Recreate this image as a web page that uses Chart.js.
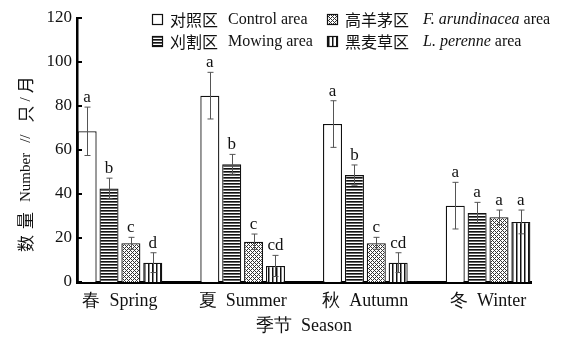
<!DOCTYPE html>
<html>
<head>
<meta charset="utf-8">
<script src="https://cdn.jsdelivr.net/npm/chart.js@4"></script>
<style>
  html, body { margin: 0; padding: 0; background: #fff; }
</style>
</head>
<body>
<canvas id="myChart" width="564" height="347"></canvas>
<script>
// data
const seasons = ['春  Spring', '夏  Summer', '秋  Autumn', '冬  Winter'];

const control = [68.5, 84.7, 71.8, 34.7];
const controlErr = [11, 10.6, 10.6, 10.6];
const controlSig = ['a', 'a', 'a', 'a'];

const mowing = [42.5, 53.5, 48.6, 31.4];
const mowingErr = [4.7, 4.5, 4.6, 4.8];
const mowingSig = ['b', 'b', 'b', 'a'];

const arund = [17.6, 18.3, 17.6, 29.4];
const arundErr = [2.7, 3.5, 2.7, 3.3];
const arundSig = ['c', 'c', 'c', 'a'];

const perenne = [8.8, 7.3, 8.8, 27.3];
const perenneErr = [4.5, 4.8, 4.5, 5.4];
const perenneSig = ['d', 'cd', 'cd', 'a'];

const yTicks = [0, 20, 40, 60, 80, 100, 120];

const serif = '"Liberation Serif", "DejaVu Serif", serif';
const cjk = '"Noto Sans CJK SC", sans-serif';

// fill patterns
function makePattern(kind) {
  const c = document.createElement('canvas');
  const g = c.getContext('2d');
  if (kind === 'h') {
    c.width = 3; c.height = 3;
    g.fillStyle = '#fff'; g.fillRect(0, 0, 3, 3);
    g.fillStyle = '#111'; g.fillRect(0, 0, 3, 1);
    g.fillStyle = '#666'; g.fillRect(0, 1, 3, 1);
  } else if (kind === 'v') {
    c.width = 4; c.height = 4;
    g.fillStyle = '#fff'; g.fillRect(0, 0, 4, 4);
    g.fillStyle = '#111'; g.fillRect(0, 0, 1, 4);
    g.fillStyle = '#888'; g.fillRect(1, 0, 1, 4);
  } else if (kind === 'x') {
    c.width = 4; c.height = 4;
    g.fillStyle = '#fff'; g.fillRect(0, 0, 4, 4);
    g.fillStyle = '#333';
    for (let x = 0; x < 4; x++) {
      for (let y = 0; y < 4; y++) {
        if ((x + y) % 4 === 0 || (x - y + 4) % 4 === 0) g.fillRect(x, y, 1, 1);
      }
    }
  } else {
    c.width = 2; c.height = 2;
    g.fillStyle = '#fff'; g.fillRect(0, 0, 2, 2);
  }
  return g.createPattern(c, 'repeat');
}

const fills = [makePattern('w'), makePattern('h'), makePattern('x'), makePattern('v')];

function toPoints(arr) {
  return arr.map((v, i) => ({ x: i, y: v }));
}

const datasets = [
  { label: '对照区 Control area', data: toPoints(control), err: controlErr, sig: controlSig },
  { label: '刈割区 Mowing area', data: toPoints(mowing), err: mowingErr, sig: mowingSig },
  { label: '高羊茅区 F. arundinacea area', data: toPoints(arund), err: arundErr, sig: arundSig },
  { label: '黑麦草区 L. perenne area', data: toPoints(perenne), err: perenneErr, sig: perenneSig }
].map((d, i) => Object.assign(d, {
  backgroundColor: fills[i],
  borderColor: '#111',
  borderWidth: 1.3,
  categoryPercentage: 0.713,
  barPercentage: 0.87
}));

// error bars, significance letters and inner y ticks
const errPlugin = {
  id: 'errs',
  afterDatasetsDraw(chart) {
    const ctx = chart.ctx;
    const y = chart.scales.y;
    chart.data.datasets.forEach((ds, i) => {
      const meta = chart.getDatasetMeta(i);
      meta.data.forEach((bar, j) => {
        const v = ds.data[j].y, e = ds.err[j];
        const yt = y.getPixelForValue(v + e), yb = y.getPixelForValue(v - e);
        const bx = Math.round(bar.x) + 0.5;
        ctx.save();
        ctx.strokeStyle = '#555';
        ctx.lineWidth = 1;
        ctx.beginPath();
        ctx.moveTo(bx, yt); ctx.lineTo(bx, yb);
        ctx.moveTo(bx - 3, yt); ctx.lineTo(bx + 3, yt);
        ctx.moveTo(bx - 3, yb); ctx.lineTo(bx + 3, yb);
        ctx.stroke();
        ctx.fillStyle = '#111';
        ctx.font = '17px ' + serif;
        ctx.textAlign = 'center';
        ctx.textBaseline = 'alphabetic';
        ctx.fillText(ds.sig[j], bar.x, yt - 5);
        ctx.restore();
      });
    });
    // tick marks pointing into the plot
    const left = chart.chartArea.left;
    ctx.save();
    ctx.strokeStyle = '#000';
    ctx.lineWidth = 2;
    yTicks.forEach(t => {
      const py = Math.round(y.getPixelForValue(t));
      ctx.beginPath();
      ctx.moveTo(left, py); ctx.lineTo(left + 5, py);
      ctx.stroke();
    });
    ctx.restore();
  }
};

// draws a list of [text, font, gapAfter] runs starting at x
function drawRuns(ctx, x, y, runs) {
  runs.forEach(([t, f, gap]) => {
    ctx.font = f;
    ctx.fillText(t, x, y);
    x += ctx.measureText(t).width + (gap || 0);
  });
}

// two-column legend at top and the y title
const legendPlugin = {
  id: 'topLegend',
  afterDraw(chart) {
    const ctx = chart.ctx;
    const cj = '16px ' + cjk, la = '16px ' + serif, it = 'italic 16px ' + serif;
    const items = [
      { x: 152, y: 20, runs: [['对照区', cj, 10], ['Control area', la]] },
      { x: 152, y: 42, runs: [['刈割区', cj, 10], ['Mowing area', la]] },
      { x: 327, y: 20, runs: [['高羊茅区', cj, 14], ['F. arundinacea', it], [' area', la]] },
      { x: 327, y: 42, runs: [['黑麦草区', cj, 14], ['L. perenne', it], [' area', la]] }
    ];
    ctx.save();
    ctx.fillStyle = '#111';
    ctx.textBaseline = 'middle';
    ctx.textAlign = 'left';
    items.forEach((item, i) => {
      ctx.fillStyle = fills[i];
      ctx.fillRect(item.x, item.y - 6, 11, 11);
      ctx.strokeStyle = '#111';
      ctx.lineWidth = 1.2;
      ctx.strokeRect(item.x + 0.5, item.y - 5.5, 10, 10);
      ctx.fillStyle = '#111';
      drawRuns(ctx, item.x + 18, item.y, item.runs);
    });
    // rotated y title, spaced out like the original
    const yc = '17px ' + cjk, yl = '15px ' + serif;
    ctx.translate(26, 252);
    ctx.rotate(-Math.PI / 2);
    drawRuns(ctx, 0, 0, [
      ['数', yc, 6], ['量', yc, 10],
      ['Number', yl, 10],
      ['//', yl, 12],
      ['只', yc, 4], ['/', yl, 4], ['月', yc]
    ]);
    ctx.restore();
  }
};

new Chart(document.getElementById('myChart'), {
  type: 'bar',
  data: { datasets },
  plugins: [errPlugin, legendPlugin],
  options: {
    responsive: false,
    animation: false,
    layout: { padding: { top: 18, right: 33, left: 0, bottom: 0 } },
    plugins: {
      legend: { display: false },
      tooltip: { enabled: false }
    },
    scales: {
      x: {
        type: 'linear',
        offset: false,
        min: -0.35,
        max: 3.35,
        afterBuildTicks(s) { s.ticks = seasons.map((_, i) => ({ value: i })); },
        afterFit(s) { s.height = 65; },
        grid: { display: false, drawTicks: false, offset: false },
        border: { display: true, color: '#000', width: 3 },
        ticks: {
          autoSkip: false,
          maxRotation: 0,
          padding: 8,
          color: '#111',
          font: { family: serif, size: 18 },
          callback: (v) => seasons[v]
        },
        title: {
          display: true,
          text: '季节  Season',
          color: '#111',
          font: { family: serif, size: 18 },
          padding: { top: 10, bottom: 10 }
        }
      },
      y: {
        min: 0,
        max: 120,
        afterBuildTicks(s) { s.ticks = yTicks.map(v => ({ value: v })); },
        afterFit(s) { s.width = 77; },
        grid: { display: false, drawTicks: false },
        border: { display: true, color: '#000', width: 2.5 },
        ticks: {
          padding: 5,
          color: '#111',
          font: { family: serif, size: 17 }
        }
      }
    }
  }
});
</script>
</body>
</html>
